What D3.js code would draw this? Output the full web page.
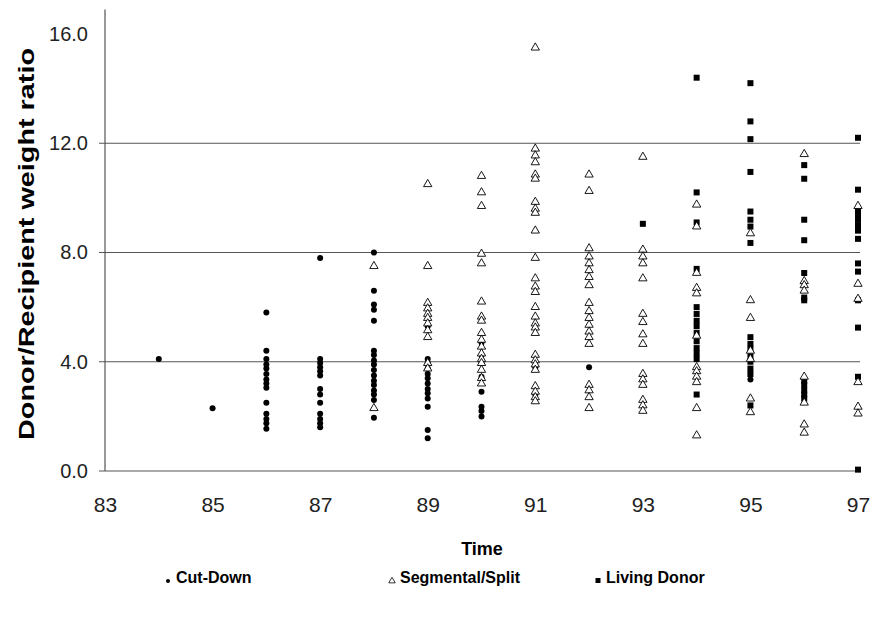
<!DOCTYPE html>
<html>
<head>
<meta charset="utf-8">
<script src="https://cdn.jsdelivr.net/npm/d3@7"></script>
<style>
  body { margin: 0; background: #fff; }
  svg { font-family: "Liberation Sans", Arial, sans-serif; }
</style>
</head>
<body>
<svg></svg>
<script>
// --- data: [year, ratio]
var cutDown = [
  [84, 4.1], [85, 2.3],
  [86, 5.8], [86, 4.4], [86, 4.1], [86, 3.9], [86, 3.75], [86, 3.55], [86, 3.35], [86, 3.2], [86, 3.05],
  [86, 2.5], [86, 2.1], [86, 1.9], [86, 1.75], [86, 1.55],
  [87, 7.8], [87, 4.1], [87, 3.95], [87, 3.8], [87, 3.65], [87, 3.5], [87, 3.0], [87, 2.8], [87, 2.5],
  [87, 2.1], [87, 1.9], [87, 1.75], [87, 1.6],
  [88, 8.0], [88, 6.6], [88, 6.1], [88, 5.9], [88, 5.5], [88, 4.4], [88, 4.25], [88, 4.05], [88, 3.9],
  [88, 3.7], [88, 3.5], [88, 3.3], [88, 3.15], [88, 2.95], [88, 2.8], [88, 2.6], [88, 1.95],
  [89, 5.3], [89, 4.1], [89, 3.95], [89, 3.75], [89, 3.55], [89, 3.4], [89, 3.2], [89, 3.0], [89, 2.85],
  [89, 2.65], [89, 2.35], [89, 1.5], [89, 1.2],
  [90, 4.7], [90, 4.25], [90, 4.0], [90, 3.45], [90, 2.9], [90, 2.35], [90, 2.2], [90, 2.0],
  [91, 3.8], [91, 2.8], [92, 3.8], [95, 3.35]
];

var segmental = [
  [88, 7.5], [88, 2.3],
  [89, 10.5], [89, 7.5], [89, 6.15], [89, 5.95], [89, 5.75], [89, 5.6], [89, 5.4], [89, 5.15], [89, 4.9],
  [89, 3.95], [89, 3.75],
  [90, 10.8], [90, 10.2], [90, 9.7], [90, 7.95], [90, 7.6], [90, 6.2], [90, 5.65], [90, 5.5], [90, 5.05],
  [90, 4.8], [90, 4.55], [90, 4.3], [90, 4.1], [90, 3.95], [90, 3.7], [90, 3.4], [90, 3.2],
  [91, 15.5], [91, 11.8], [91, 11.55], [91, 11.3], [91, 10.85], [91, 10.7], [91, 9.85], [91, 9.6], [91, 9.45],
  [91, 8.8], [91, 7.8], [91, 7.05], [91, 6.75], [91, 6.55], [91, 6.0], [91, 5.65], [91, 5.4], [91, 5.25],
  [91, 5.05], [91, 4.25], [91, 4.05], [91, 3.9], [91, 3.7], [91, 3.1], [91, 2.9], [91, 2.7], [91, 2.55],
  [92, 10.85], [92, 10.25], [92, 8.15], [92, 7.85], [92, 7.6], [92, 7.35], [92, 7.1], [92, 6.8], [92, 6.15],
  [92, 5.85], [92, 5.6], [92, 5.35], [92, 5.1], [92, 4.9], [92, 4.65], [92, 3.15], [92, 2.95], [92, 2.7], [92, 2.3],
  [93, 11.5], [93, 8.1], [93, 7.85], [93, 7.6], [93, 7.05], [93, 5.75], [93, 5.45], [93, 5.0], [93, 4.65],
  [93, 3.55], [93, 3.35], [93, 3.15], [93, 2.6], [93, 2.4], [93, 2.2],
  [94, 9.75], [94, 8.95], [94, 7.25], [94, 6.7], [94, 6.5], [94, 4.95], [94, 3.8], [94, 3.65], [94, 3.45],
  [94, 3.25], [94, 2.3], [94, 1.3],
  [95, 8.7], [95, 6.25], [95, 5.6], [95, 4.4], [95, 4.1], [95, 2.65], [95, 2.15],
  [96, 11.6], [96, 6.95], [96, 6.8], [96, 6.6], [96, 3.45], [96, 2.5], [96, 1.7], [96, 1.4],
  [97, 9.7], [97, 6.85], [97, 6.3], [97, 3.25], [97, 2.35], [97, 2.1]
];

var livingDonor = [
  [93, 9.05],
  [94, 14.4], [94, 10.2], [94, 9.1], [94, 7.4], [94, 6.0], [94, 5.75], [94, 5.5], [94, 5.3], [94, 5.05],
  [94, 4.75], [94, 4.5], [94, 4.3], [94, 4.1], [94, 2.8],
  [95, 14.2], [95, 12.8], [95, 12.15], [95, 10.95], [95, 9.5], [95, 9.2], [95, 8.95], [95, 8.35],
  [95, 4.9], [95, 4.65], [95, 4.45], [95, 4.2], [95, 4.0], [95, 3.75], [95, 3.55], [95, 2.4],
  [96, 11.2], [96, 10.7], [96, 9.2], [96, 8.45], [96, 7.25], [96, 6.35], [96, 6.25],
  [96, 3.3], [96, 3.15], [96, 2.95], [96, 2.8], [96, 2.65],
  [97, 12.2], [97, 10.3], [97, 9.55], [97, 9.35], [97, 9.2], [97, 9.0], [97, 8.8], [97, 8.5], [97, 7.6],
  [97, 7.3], [97, 6.25], [97, 5.25], [97, 3.45], [97, 0.05]
];

var yTicks = [0, 4, 8, 12, 16];
var xTicks = [83, 85, 87, 89, 91, 93, 95, 97];
var legendLabels = ["Cut-Down", "Segmental/Split", "Living Donor"];

var width = 874;
var height = 621;

var svg = d3.select("svg")
            .attr("width", width)
            .attr("height", height)

var x = d3.scaleLinear().domain([83, 97]).range([105, 858]);
var y = d3.scaleLinear().domain([0, 16]).range([471, 34]);

// gridlines (no line at 16)
svg.append("g")
    .selectAll("line")
    .data(yTicks.filter(function(d) { return d < 16; }))
    .enter().append("line")
    .attr("x1", x(83) - 6)
    .attr("x2", x(97) + 2)
    .attr("y1", function(d) { return y(d); })
    .attr("y2", function(d) { return y(d); })
    .attr("stroke", "#555")
    .attr("stroke-width", 1.2)

// y axis
var yAxis = d3.axisLeft(y)
    .tickValues(yTicks)
    .tickSize(0)
    .tickPadding(17)
    .tickFormat(d3.format(".1f"));

var gy = svg.append("g")
    .attr("transform", "translate(" + x(83) + ",0)")
    .call(yAxis);
gy.select(".domain").remove();
gy.selectAll("text")
    .attr("font-size", 20)
    .attr("fill", "#222")
    .attr("font-family", "Liberation Sans, Arial, sans-serif");

svg.append("line")
    .attr("x1", x(83)).attr("x2", x(83))
    .attr("y1", y(0)).attr("y2", y(16.9))
    .attr("stroke", "#555")
    .attr("stroke-width", 1.2)

// x axis (labels only)
var xAxis = d3.axisBottom(x)
    .tickValues(xTicks)
    .tickSize(0)
    .tickPadding(26)
    .tickFormat(d3.format("d"));

var gx = svg.append("g")
    .attr("transform", "translate(0," + y(0) + ")")
    .call(xAxis);
gx.select(".domain").remove();
gx.selectAll("text")
    .attr("font-size", 21)
    .attr("fill", "#222")
    .attr("font-family", "Liberation Sans, Arial, sans-serif");

// axis titles
svg.append("text")
    .attr("x", 482)
    .attr("y", 555)
    .attr("text-anchor", "middle")
    .attr("font-size", 18)
    .attr("font-weight", "bold")
    .text("Time")

svg.append("text")
    .attr("transform", "translate(34,244) rotate(-90)")
    .attr("text-anchor", "middle")
    .attr("font-size", 22)
    .attr("font-weight", "bold")
    .attr("textLength", 392)
    .attr("lengthAdjust", "spacingAndGlyphs")
    .text("Donor/Recipient weight ratio")

// marks
var tri = d3.symbol().type(d3.symbolTriangle).size(30);

svg.append("g")
    .selectAll("circle")
    .data(cutDown)
    .enter().append("circle")
    .attr("cx", function(d) { return x(d[0]); })
    .attr("cy", function(d) { return y(d[1]); })
    .attr("r", 3)
    .attr("fill", "#000")

svg.append("g")
    .selectAll("rect")
    .data(livingDonor)
    .enter().append("rect")
    .attr("x", function(d) { return x(d[0]) - 3; })
    .attr("y", function(d) { return y(d[1]) - 3; })
    .attr("width", 6)
    .attr("height", 6)
    .attr("fill", "#000")

svg.append("g")
    .selectAll("path")
    .data(segmental)
    .enter().append("path")
    .attr("d", tri)
    .attr("transform", function(d) { return "translate(" + x(d[0]) + "," + y(d[1]) + ")"; })
    .attr("fill", "#fff")
    .attr("stroke", "#000")
    .attr("stroke-width", 0.9)

// legend
var legendX = [168, 392, 598];
var legend = svg.append("g")
    .selectAll("g")
    .data(legendLabels)
    .enter().append("g")
    .attr("transform", function(d, i) { return "translate(" + legendX[i] + ",578)"; })

legend.each(function(d, i) {
    var g = d3.select(this);
    if (i == 0) {
        g.append("circle").attr("cx", 0).attr("cy", 3).attr("r", 2).attr("fill", "#000");
    } else if (i == 1) {
        g.append("path").attr("d", d3.symbol().type(d3.symbolTriangle).size(18))
            .attr("transform", "translate(0,3)")
            .attr("fill", "#fff").attr("stroke", "#000").attr("stroke-width", 0.8);
    } else {
        g.append("rect").attr("x", -2.5).attr("y", 0).attr("width", 5).attr("height", 5).attr("fill", "#000");
    }
    g.append("text")
        .attr("x", 8)
        .attr("y", 5)
        .attr("font-size", 16)
        .attr("font-weight", "bold")
        .text(d);
});
</script>
</body>
</html>
